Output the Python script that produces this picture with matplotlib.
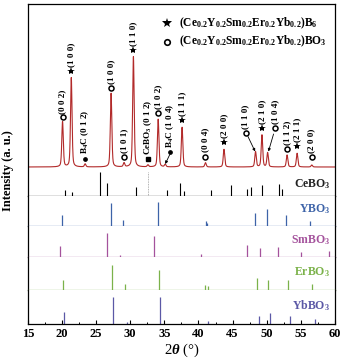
import numpy as np
import matplotlib
matplotlib.use("Agg")
import matplotlib.pyplot as plt
from matplotlib.ticker import MultipleLocator

plt.rcParams['font.family'] = ['Liberation Serif', 'DejaVu Serif']
plt.rcParams['font.weight'] = 'bold'
plt.rcParams['mathtext.fontset'] = 'custom'
plt.rcParams['mathtext.rm'] = 'Liberation Serif:bold'
plt.rcParams['mathtext.bf'] = 'Liberation Serif:bold'
plt.rcParams['mathtext.it'] = 'Liberation Serif:italic:bold'

# ---------------- data ----------------
# measured XRD pattern: peak positions (2theta), heights (a.u.)
baseline_level = 29.0
peak_pos = [20.09, 21.37, 23.40, 27.20, 29.10, 30.47, 32.60, 34.10, 35.13,
            37.60, 41.03, 43.74, 48.36, 49.30, 50.13, 52.98, 54.45, 56.60]
peak_height = [74.3, 118.3, 32.0, 102.7, 33.0, 139.3, 31.0, 76.7, 31.5,
               68.7, 33.3, 46.7, 44.3, 61.0, 43.3, 41.0, 42.7, 31.0]

# reference patterns (stick positions and heights)
ce_pos = [20.49, 21.52, 25.55, 26.53, 30.81, 35.33, 37.35, 37.94, 41.87,
          44.82, 47.13, 47.63, 49.25, 51.80, 52.30]
ce_h = [6.0, 3.7, 24.3, 12.7, 8.7, 6.0, 12.7, 5.0, 6.0,
        11.0, 6.7, 8.7, 11.0, 12.0, 6.7]
ce_dotted_pos = 32.63
ce_dotted_h = 24.0

y_pos = [20.04, 27.17, 29.00, 34.06, 41.09, 41.28, 48.26, 50.08, 52.89, 56.37]
y_h = [11.0, 23.3, 6.0, 24.3, 5.3, 3.3, 12.7, 16.7, 11.0, 5.3]

sm_pos = [19.65, 26.63, 28.45, 33.42, 40.30, 47.18, 49.00, 51.66, 55.00, 59.08]
sm_h = [10.6, 24.0, 2.3, 21.3, 3.3, 11.6, 9.0, 9.6, 4.6, 5.6]

er_pos = [20.14, 27.32, 29.24, 34.16, 41.03, 41.38, 48.51, 50.23, 53.08, 56.62]
er_h = [10.0, 25.0, 6.0, 20.0, 5.0, 4.0, 11.7, 10.0, 10.0, 6.0]

yb_pos = [20.24, 27.52, 29.48, 34.30, 41.38, 48.90, 50.53, 53.48, 57.10]
yb_h = [12.3, 27.3, 2.3, 26.7, 3.3, 8.3, 10.7, 8.3, 4.7]

ref_names = ['YBO$_3$', 'SmBO$_3$', 'ErBO$_3$', 'YbBO$_3$']
ref_colors = ['#3d63a8', '#a4529c', '#7bb24a', '#5b58a6']

# peak labels: x, marker, marker y, label, text bottom y
lab_x = [20.09, 21.33, 23.44, 27.23, 30.47, 29.09, 32.68, 34.10, 35.87, 37.60,
         41.03, 43.75, 46.89, 49.29, 51.21, 52.98, 54.41, 56.58]
lab_mk = ['o', '*', '.', 'o', '*', 'o', 's', 'o', '.', '*',
          'o', '*', 'o', '*', 'o', 'o', '*', 'o']
lab_my = [78.7, 125.0, 37.0, 107.7, 146.0, 38.7, 37.0, 83.3, 43.7, 76.0,
          39.3, 54.3, 62.7, 67.7, 67.7, 46.7, 50.0, 38.7]
lab_text = ['(0 0 2)', '(1 0 0)', 'B$_4$C (0 1 2)', '(1 0 0)', '(1 1 0)', '(1 0 1)',
            'CeBO$_3$ (0 1 2)', '(1 0 2)', 'B$_4$C (1 0 4)', '(1 1 1)',
            '(0 0 4)', '(2 0 0)', '(1 1 0)', '(2 1 0)', '(1 0 4)', '(1 1 2)',
            '(2 1 1)', '(2 0 0)']
lab_ty = [82.0, 129.3, 42.0, 112.0, 150.0, 43.0, 41.0, 87.0, 47.7, 80.0,
          43.5, 58.5, 67.0, 72.0, 71.5, 51.0, 54.5, 43.0]
# leader lines: (from x, from y, to x, to y)
leaders = [(35.80, 41.5, 35.13, 32.0), (47.25, 59.5, 48.30, 44.5),
           (51.00, 62.0, 50.25, 44.5)]

legend_labels = ['(Ce$_{0.2}$Y$_{0.2}$Sm$_{0.2}$Er$_{0.2}$Yb$_{0.2}$)B$_6$',
                 '(Ce$_{0.2}$Y$_{0.2}$Sm$_{0.2}$Er$_{0.2}$Yb$_{0.2}$)BO$_3$']

# ---------------- figure ----------------
W, H = 344, 363
fig = plt.figure(figsize=(W / 100, H / 100), dpi=100)
heights = [192, 30, 31, 33, 34]
gs = fig.add_gridspec(5, 1, height_ratios=heights, hspace=0,
                      left=27.8 / W, right=335 / W, top=1 - 4 / H, bottom=1 - 324 / H)
axes = [fig.add_subplot(gs[i]) for i in range(5)]
for i, ax in enumerate(axes):
    ax.set_xlim(15, 60)
    ax.set_ylim(0, heights[i])
    ax.set_yticks([])
    for s in ax.spines.values():
        s.set_linewidth(0.9)
    if i < 4:
        ax.tick_params(axis='x', which='both', bottom=False, labelbottom=False)

# top panel
ax0 = axes[0]
x = np.arange(15, 60.0001, 0.01)
ypat = np.full_like(x, baseline_level)
fw = 0.26
for p, h in zip(peak_pos, peak_height):
    a = h - baseline_level
    g = np.exp(-4 * np.log(2) * ((x - p) / fw) ** 2)
    l = 1 / (1 + 4 * ((x - p) / fw) ** 2)
    ypat += a * (0.6 * g + 0.4 * l)
ax0.plot(x, ypat, color='#b22a2a', lw=0.8)
ax0.vlines(ce_pos, 0, ce_h, color='black', lw=0.8)
ax0.vlines([ce_dotted_pos], 0, [ce_dotted_h], color='#999999', lw=0.6, linestyles=(0, (1, 1)))
ax0.text(59.3, 12, 'CeBO$_3$', ha='right', va='center', fontsize=8.5, color='#222222')

for xx, mk, my, tt, ty in zip(lab_x, lab_mk, lab_my, lab_text, lab_ty):
    if mk == 'o':
        ax0.plot(xx, my, 'o', ms=3.6, mfc='white', mec='black', mew=1.1)
    elif mk == '*':
        ax0.plot(xx, my, '*', ms=6, color='black', mew=0)
    elif mk == '.':
        ax0.plot(xx, my, 'o', ms=2.4, color='black')
    else:
        ax0.plot(xx, my, 's', ms=2.6, color='black')
    ax0.text(xx, ty, tt, rotation=90, ha='center', va='bottom', fontsize=6.6)
for x1, y1, x2, y2 in leaders:
    ax0.annotate('', xy=(x2, y2), xytext=(x1, y1),
                 arrowprops=dict(arrowstyle='-|>', lw=0.6, color='black',
                                 mutation_scale=4, shrinkA=0, shrinkB=0))

# legend
ax0.plot(35.4, 172.7, '*', ms=7, color='black', mew=0)
ax0.plot(35.4, 154.3, 'o', ms=4, mfc='white', mec='black', mew=1.2)
ax0.text(37.1, 172.7, legend_labels[0], ha='left', va='center', fontsize=8.3)
ax0.text(37.1, 154.3, legend_labels[1], ha='left', va='center', fontsize=8.3)

# reference panels
refs = [(y_pos, y_h), (sm_pos, sm_h), (er_pos, er_h), (yb_pos, yb_h)]
for i, ((pp, hh), name, col) in enumerate(zip(refs, ref_names, ref_colors)):
    ax = axes[i + 1]
    ax.vlines(pp, 0, hh, color=col, lw=0.9)
    ax.spines['top'].set_visible(False)
    if i < 3:
        ax.spines['bottom'].set_color(col)
    ax.text(59.3, heights[i + 1] * 0.55, name, ha='right', va='center',
            fontsize=8.5, color=col)

axb = axes[-1]
axb.xaxis.set_major_locator(MultipleLocator(5))
axb.xaxis.set_minor_locator(MultipleLocator(2.5))
axb.tick_params(axis='x', which='major', direction='in', length=3, width=0.8,
                labelsize=9, pad=3)
axb.tick_params(axis='x', which='minor', direction='in', length=1.8, width=0.7)
axb.set_xlabel('2$\\mathit{θ}$ (°)', fontsize=10.5, labelpad=1)

fig.text(8.3 / W, 1 - 171 / H, 'Intensity (a. u.)', rotation=90, ha='center',
         va='center', fontsize=9)

fig.savefig('out.png', dpi=100)
